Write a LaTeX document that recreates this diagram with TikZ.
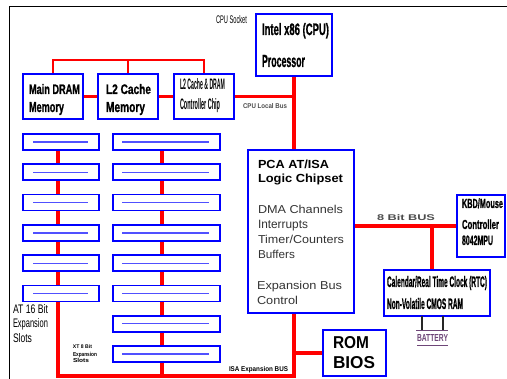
\documentclass[tikz,border=0pt]{standalone}
\usepackage{fontspec}
\setmainfont{Liberation Sans}
\newfontfamily\hv[BoldFeatures={FakeBold=1.2}]{Liberation Sans}
\usepackage{graphicx}
\newcommand\fitt[3]{\resizebox{#1pt}{#2pt}{#3}}
\definecolor{busred}{RGB}{255,0,0}
\definecolor{boxblue}{RGB}{0,0,255}
\definecolor{slotblue}{RGB}{80,80,255}
\definecolor{battcol}{RGB}{110,70,120}
\pgfdeclarelayer{bg}
\pgfsetlayers{bg,main}
\begin{document}
\begin{tikzpicture}[x=1pt,y=-1pt,
  box/.style={draw=boxblue, line width=1.8pt, inner sep=0pt, outer sep=0pt},
  slot/.style={box, minimum height=16pt},
  slotline/.style={slotblue, line width=1.3pt},
  bus/.style={busred, line width=3.6pt},
  thinbus/.style={busred, line width=1.6pt},
  lbl/.style={inner sep=0pt, outer sep=0pt, anchor=base west},
  body/.style={lbl, text=black!80},
  tiny/.style={lbl, text=black!70}]
\useasboundingbox (0,0) rectangle (507,379);
\draw[black, line width=1pt] (9,379) -- (9,7) -- (507,7);

% boxes
\node[box, minimum width=76pt, minimum height=62pt] (cpu) at (294,45) {};
\node[box, minimum width=60pt, minimum height=45pt] (dram) at (53,96.5) {};
\node[box, minimum width=60pt, minimum height=45pt] (l2) at (128,96.5) {};
\node[box, minimum width=60pt, minimum height=45pt] (ctl) at (204,96.5) {};
\node[box, minimum width=106pt, minimum height=163pt] (chip) at (301,231.5) {};
\node[box, minimum width=48pt, minimum height=62pt] (kbd) at (481,226) {};
\node[box, minimum width=106pt, minimum height=46pt] (rtc) at (437,293) {};
\node[box, minimum width=63pt, minimum height=46pt] (rom) at (354.5,353) {};

% slots
\foreach \i in {1,...,6}
  \node[slot, minimum width=76pt] (sl\i) at (61,{142+30.3*(\i-1)}) {};
\foreach \i in {1,...,8}
  \node[slot, minimum width=107pt] (sr\i) at (166.5,{142+30.3*(\i-1)}) {};
\foreach \i in {1,...,6}
  \draw[slotline] ([xshift=10pt]sl\i.west) -- ([xshift=-11pt]sl\i.east);
\foreach \i in {1,...,8}
  \draw[slotline] ([xshift=9pt]sr\i.west) -- ([xshift=-11pt]sr\i.east);

\coordinate (lx) at (58,0);
\coordinate (rx) at (162,0);
\coordinate (mb) at (0,60);
\coordinate (b8) at (0,226);
\coordinate (isay) at (0,376);
\coordinate (vx) at (432,0);
\coordinate (bx1) at (422,0);
\coordinate (bx2) at (443,0);
\coordinate (batt) at (0,330);

\begin{pgfonlayer}{bg}
  \draw[thinbus] (dram.north) -- (dram.north |- mb) -- (ctl.north |- mb) -- (ctl.north);
  \draw[thinbus] (l2.north) -- (l2.north |- mb);
  \draw[bus] (dram.east) -- (l2.west);
  \draw[bus] (l2.east) -- (ctl.west);
  \draw[bus] (ctl.east) -- (ctl.east -| cpu.south);
  \draw[bus] (cpu.south) -- (cpu.south |- chip.north);
  \draw[bus] (chip.east |- b8) -- (kbd.west |- b8);
  \draw[bus] (vx |- b8) -- (rtc.north -| vx);
  \draw[bus] (rom.west) -- (rom.west -| cpu.south);
  \draw[bus, line join=miter] (sl6.south -| lx) -- (lx |- isay) -- (cpu.south |- isay) -- (cpu.south |- chip.south);
  \draw[bus] (sr8.south -| rx) -- (rx |- isay);
  \foreach \i/\j in {1/2,2/3,3/4,4/5,5/6}
    \draw[bus] (sl\i.south -| lx) -- (sl\j.north -| lx);
  \foreach \i/\j in {1/2,2/3,3/4,4/5,5/6,6/7,7/8}
    \draw[bus] (sr\i.south -| rx) -- (sr\j.north -| rx);
\end{pgfonlayer}

% battery
\draw[black!85, line width=1.2pt] (rtc.south -| bx1) -- (bx1 |- batt);
\draw[black!85, line width=1.2pt] (rtc.south -| bx2) -- (bx2 |- batt);
\draw[battcol, line width=0.6pt] (416,330) -- (448,330);
\draw[battcol, line width=0.8pt] (417,345) -- (448,345);
\node[lbl, text=battcol] (tbatt) at (417,342) {\fitt{31}{7}{\bfseries BATTERY}};

% labels
\node[lbl] (tsock) at (216,24) {\fitt{31}{8}{CPU Socket}};
\node[lbl] (tcpu1) at (262,35) {\fitt{67}{12}{\hv\bfseries Intel x86 (CPU)}};
\node[lbl] (tcpu2) at (262,67) {\fitt{43}{12}{\hv\bfseries Processor}};
\node[lbl] (tdr1) at (29,94) {\fitt{51}{10}{\hv\bfseries Main DRAM}};
\node[lbl] (tdr2) at (29,112) {\fitt{35}{10}{\hv\bfseries Memory}};
\node[lbl] (tl21) at (106,94) {\fitt{45}{10}{\hv\bfseries L2 Cache}};
\node[lbl] (tl22) at (106,112) {\fitt{39}{10}{\hv\bfseries Memory}};
\node[lbl] (tct1) at (180,90) {\fitt{45}{11}{\bfseries L2 Cache \& DRAM}};
\node[lbl] (tct2) at (180,110) {\fitt{40}{11}{\bfseries Controller Chip}};
\node[tiny] (tlocal) at (243,109) {\fitt{44}{5}{\bfseries CPU Local Bus}};

\node[lbl] (tch1) at (258,169) {\fitt{71}{8.5}{\bfseries PCA AT/ISA}};
\node[lbl] (tch2) at (258,183) {\fitt{85}{8.5}{\bfseries Logic Chipset}};
\node[body] (tch3) at (258,214) {\fitt{85}{8.3}{DMA Channels}};
\node[body] (tch4) at (258,229) {\fitt{50}{8.3}{Interrupts}};
\node[body] (tch5) at (258,244) {\fitt{86}{8.3}{Timer/Counters}};
\node[body] (tch6) at (258,259) {\fitt{37}{8.3}{Buffers}};
\node[body] (tch7) at (257,290) {\fitt{85}{8.3}{Expansion Bus}};
\node[body] (tch8) at (257,305) {\fitt{41}{8.3}{Control}};

\node[tiny] (t8bit) at (377,221) {\fitt{58}{6}{\bfseries 8 Bit BUS}};
\node[lbl] (tkb1) at (462,208) {\fitt{41}{9.5}{\hv\bfseries KBD/Mouse}};
\node[lbl] (tkb2) at (462,229) {\fitt{37}{9.5}{\hv\bfseries Controller}};
\node[lbl] (tkb3) at (462,245) {\fitt{31}{9.5}{\hv\bfseries 8042MPU}};
\node[lbl] (trtc1) at (387,287) {\fitt{100}{11}{\hv\bfseries Calendar/Real Time Clock (RTC)}};
\node[lbl] (trtc2) at (387,309) {\fitt{76}{11}{\hv\bfseries Non-Volatile CMOS RAM}};
\node[lbl] (trom1) at (333,349) {\fitt{36}{12}{\bfseries ROM}};
\node[lbl] (trom2) at (333,369) {\fitt{42}{12}{\bfseries BIOS}};
\node[lbl] (tisa) at (229,372) {\fitt{59}{5}{\bfseries ISA Expansion BUS}};

\node[lbl] (tat1) at (13,314) {\fitt{35}{9}{AT 16 Bit}};
\node[lbl] (tat2) at (13,328) {\fitt{35}{9}{Expansion}};
\node[lbl] (tat3) at (13,343) {\fitt{19}{9}{Slots}};
\node[lbl] (txt1) at (73,349) {\fitt{19}{3.8}{\bfseries XT 8 Bit}};
\node[lbl] (txt2) at (73,357) {\fitt{24}{4.2}{\bfseries Expansion}};
\node[lbl] (txt3) at (73,363) {\fitt{16}{4.2}{\bfseries Slots}};
\end{tikzpicture}
\end{document}
